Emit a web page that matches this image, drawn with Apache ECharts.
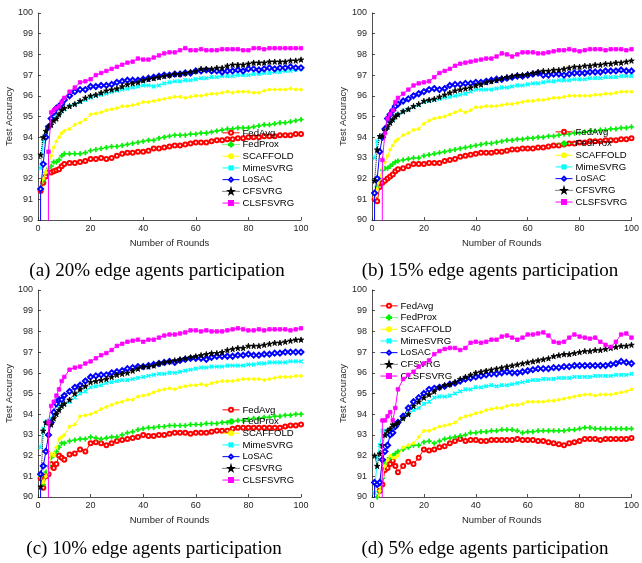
<!DOCTYPE html>
<html>
<head>
<meta charset="utf-8">
<script src="https://cdn.jsdelivr.net/npm/echarts@6/dist/echarts.min.js"></script>
<style>
  html, body { margin: 0; padding: 0; background: #fff; }
  #chart { width: 642px; height: 563px; }
</style>
</head>
<body>
<div id="chart"></div>
<script>
// rounds (x values); index 0 is round 0
const rounds = [0, 1, 2, 3, 4, 5, 6, 7, 8, 9, 10,
  12, 14, 16, 18, 20, 22, 24, 26, 28, 30, 32, 34, 36, 38, 40,
  42, 44, 46, 48, 50, 52, 54, 56, 58, 60, 62, 64, 66, 68, 70,
  72, 74, 76, 78, 80, 82, 84, 86, 88, 90, 92, 94, 96, 98, 100]

const methods = ['FedAvg', 'FedProx', 'SCAFFOLD', 'MimeSVRG', 'LoSAC', 'CFSVRG', 'CLSFSVRG']
const captions = ['(a) 20% edge agents participation', '(b) 15% edge agents participation',
  '(c) 10% edge agents participation', '(d) 5% edge agents participation']

// (a) 20%
const avgA = [null, 91.4, 91.8, 92.1, 92.3, 92.3, 92.35, 92.4, 92.45, 92.6, 92.7, 92.75, 92.75, 92.8, 92.85, 92.95, 92.95, 93.0, 92.95, 93.0, 93.1, 93.2, 93.25, 93.25, 93.3, 93.3, 93.35, 93.45, 93.45, 93.5, 93.55, 93.6, 93.6, 93.65, 93.7, 93.75, 93.75, 93.75, 93.8, 93.85, 93.85, 93.9, 93.9, 93.95, 93.95, 94.0, 94.0, 94.0, 94.05, 94.05, 94.05, 94.1, 94.1, 94.1, 94.15, 94.15]
const proxA = [null, 91.5, 91.9, 92.3, 92.5, 92.6, 92.8, 92.8, 92.9, 93.1, 93.2, 93.2, 93.2, 93.2, 93.25, 93.35, 93.4, 93.45, 93.5, 93.55, 93.55, 93.6, 93.65, 93.7, 93.75, 93.8, 93.85, 93.85, 93.95, 94.0, 94.05, 94.1, 94.1, 94.1, 94.15, 94.15, 94.2, 94.2, 94.25, 94.3, 94.35, 94.4, 94.4, 94.45, 94.45, 94.45, 94.5, 94.55, 94.6, 94.6, 94.65, 94.7, 94.7, 94.75, 94.8, 94.85]
const scafA = [null, 91.6, 92.0, 92.3, 92.7, 93.1, 93.5, 93.8, 94.0, 94.2, 94.3, 94.4, 94.6, 94.7, 94.85, 95.1, 95.15, 95.2, 95.3, 95.35, 95.4, 95.5, 95.5, 95.55, 95.6, 95.7, 95.7, 95.75, 95.8, 95.85, 95.9, 95.95, 95.95, 95.9, 95.95, 96.0, 96.0, 96.05, 96.1, 96.1, 96.15, 96.2, 96.15, 96.2, 96.2, 96.2, 96.15, 96.15, 96.25, 96.3, 96.3, 96.3, 96.3, 96.35, 96.3, 96.3]
const mimeA = [null, 92.5, 93.8, 94.2, 94.5, 94.7, 94.9, 95.0, 95.1, 95.25, 95.35, 95.5, 95.6, 95.7, 95.8, 95.9, 96.0, 96.05, 96.1, 96.2, 96.25, 96.3, 96.35, 96.4, 96.45, 96.5, 96.5, 96.45, 96.5, 96.6, 96.65, 96.7, 96.7, 96.75, 96.75, 96.8, 96.85, 96.85, 96.9, 96.9, 96.95, 96.95, 96.95, 97.0, 97.0, 97.0, 97.05, 97.05, 97.1, 97.1, 97.15, 97.15, 97.2, 97.2, 97.25, 97.3]
const losacA = [10, 91.5, 92.7, 94.0, 94.5, 94.9, 95.2, 95.4, 95.5, 95.6, 95.8, 96.0, 96.2, 96.3, 96.3, 96.45, 96.45, 96.5, 96.5, 96.55, 96.65, 96.7, 96.75, 96.75, 96.75, 96.8, 96.85, 96.9, 96.95, 97.0, 97.0, 97.05, 97.05, 97.1, 97.1, 97.2, 97.2, 97.25, 97.2, 97.2, 97.15, 97.2, 97.2, 97.25, 97.2, 97.3, 97.3, 97.25, 97.3, 97.35, 97.3, 97.35, 97.35, 97.4, 97.35, 97.35]
const cfA = [null, 93.15, 94.0, 94.3, 94.5, 94.6, 94.8, 94.9, 95.1, 95.3, 95.4, 95.5, 95.6, 95.75, 95.9, 96.0, 96.05, 96.15, 96.25, 96.3, 96.35, 96.45, 96.55, 96.6, 96.65, 96.75, 96.8, 96.85, 96.9, 96.95, 97.0, 97.05, 97.05, 97.1, 97.15, 97.2, 97.3, 97.3, 97.3, 97.35, 97.35, 97.45, 97.5, 97.5, 97.5, 97.55, 97.6, 97.6, 97.6, 97.65, 97.65, 97.65, 97.65, 97.7, 97.7, 97.75]
const clsA = [null, 10, 10, 10, 93.3, 95.2, 95.3, 95.4, 95.5, 95.7, 95.9, 96.2, 96.4, 96.65, 96.7, 96.8, 97.0, 97.1, 97.2, 97.3, 97.4, 97.5, 97.6, 97.65, 97.8, 97.75, 97.75, 97.85, 97.95, 98.05, 98.1, 98.1, 98.2, 98.3, 98.2, 98.2, 98.25, 98.2, 98.2, 98.2, 98.25, 98.25, 98.25, 98.25, 98.2, 98.2, 98.3, 98.3, 98.25, 98.3, 98.3, 98.3, 98.3, 98.3, 98.3, 98.3]

// (b) 15%
const avgB = [null, 91.0, 90.9, 91.6, 91.8, 91.9, 92.0, 92.1, 92.2, 92.35, 92.45, 92.5, 92.6, 92.7, 92.7, 92.7, 92.75, 92.75, 92.75, 92.85, 92.9, 92.95, 93.05, 93.1, 93.15, 93.2, 93.25, 93.25, 93.25, 93.3, 93.3, 93.35, 93.4, 93.4, 93.45, 93.45, 93.45, 93.5, 93.5, 93.55, 93.6, 93.6, 93.65, 93.7, 93.7, 93.75, 93.75, 93.8, 93.8, 93.8, 93.85, 93.85, 93.85, 93.9, 93.9, 93.95]
const proxB = [null, 91.3, 91.6, 92.0, 92.4, 92.5, 92.5, 92.6, 92.7, 92.8, 92.85, 92.9, 92.95, 93.0, 93.0, 93.1, 93.15, 93.2, 93.25, 93.3, 93.35, 93.4, 93.45, 93.5, 93.55, 93.6, 93.65, 93.7, 93.7, 93.75, 93.8, 93.85, 93.85, 93.9, 93.9, 93.95, 93.95, 94.0, 94.0, 94.05, 94.05, 94.1, 94.15, 94.15, 94.2, 94.2, 94.25, 94.3, 94.3, 94.35, 94.35, 94.4, 94.4, 94.45, 94.45, 94.5]
const scafB = [null, 91.1, 91.5, 92.0, 92.5, 92.8, 93.1, 93.4, 93.6, 93.8, 93.9, 94.1, 94.2, 94.35, 94.4, 94.65, 94.8, 94.9, 94.95, 95.0, 95.1, 95.2, 95.3, 95.2, 95.3, 95.45, 95.45, 95.5, 95.5, 95.5, 95.55, 95.6, 95.6, 95.65, 95.7, 95.75, 95.75, 95.8, 95.8, 95.85, 95.9, 95.9, 95.95, 96.0, 96.0, 96.0, 96.0, 96.0, 96.05, 96.05, 96.1, 96.1, 96.15, 96.2, 96.2, 96.2]
const mimeB = [null, 93.0, 93.8, 94.0, 94.1, 94.3, 94.5, 94.7, 94.85, 95.0, 95.1, 95.25, 95.35, 95.45, 95.55, 95.7, 95.75, 95.8, 95.85, 95.9, 95.95, 96.0, 96.05, 96.1, 96.2, 96.3, 96.3, 96.3, 96.3, 96.35, 96.4, 96.4, 96.45, 96.5, 96.5, 96.55, 96.6, 96.6, 96.65, 96.7, 96.7, 96.75, 96.75, 96.75, 96.8, 96.8, 96.8, 96.85, 96.85, 96.85, 96.9, 96.9, 96.9, 96.95, 96.95, 96.95]
const losacB = [10, 91.3, 92.0, 93.3, 94.0, 94.4, 94.9, 95.1, 95.3, 95.5, 95.6, 95.75, 95.85, 96.0, 96.1, 96.2, 96.3, 96.35, 96.3, 96.35, 96.5, 96.55, 96.55, 96.6, 96.6, 96.65, 96.65, 96.7, 96.75, 96.8, 96.8, 96.85, 96.9, 96.95, 96.95, 97.0, 97.05, 97.1, 97.0, 97.0, 97.05, 97.05, 97.0, 97.05, 97.1, 97.1, 97.1, 97.15, 97.15, 97.15, 97.2, 97.2, 97.2, 97.25, 97.2, 97.2]
const cfB = [null, 91.9, 93.4, 94.05, 94.05, 94.3, 94.5, 94.7, 94.85, 95.0, 95.1, 95.25, 95.35, 95.5, 95.6, 95.75, 95.8, 95.85, 95.95, 96.05, 96.15, 96.25, 96.3, 96.35, 96.4, 96.5, 96.55, 96.65, 96.7, 96.75, 96.85, 96.9, 96.95, 97.0, 97.0, 97.05, 97.1, 97.15, 97.2, 97.2, 97.25, 97.25, 97.3, 97.35, 97.4, 97.4, 97.45, 97.45, 97.5, 97.5, 97.55, 97.55, 97.6, 97.6, 97.65, 97.7]
const clsB = [null, 10, 10, 10, 92.9, 94.2, 94.9, 95.1, 95.3, 95.7, 95.9, 96.1, 96.3, 96.5, 96.6, 96.65, 96.7, 96.9, 97.1, 97.2, 97.3, 97.45, 97.55, 97.6, 97.65, 97.7, 97.75, 97.8, 97.8, 97.9, 98.05, 98.0, 97.9, 98.0, 98.1, 98.1, 98.1, 98.05, 98.05, 98.1, 98.15, 98.2, 98.2, 98.25, 98.2, 98.15, 98.2, 98.25, 98.25, 98.25, 98.2, 98.25, 98.25, 98.25, 98.2, 98.25]

// (c) 10%
const avgC = [null, 90.9, 90.45, 91.0, 91.1, 91.6, 91.4, 91.6, 92.0, 91.9, 91.8, 92.05, 92.1, 92.3, 92.2, 92.6, 92.65, 92.6, 92.5, 92.6, 92.7, 92.75, 92.8, 92.85, 92.9, 93.0, 92.95, 92.95, 93.0, 93.0, 93.05, 93.1, 93.1, 93.1, 93.05, 93.1, 93.1, 93.1, 93.15, 93.2, 93.2, 93.2, 93.3, 93.35, 93.35, 93.35, 93.35, 93.35, 93.35, 93.35, 93.35, 93.35, 93.4, 93.45, 93.45, 93.5]
const proxC = [null, 91.0, 90.6, 91.2, 91.5, 91.9, 92.0, 92.2, 92.4, 92.6, 92.6, 92.7, 92.75, 92.8, 92.8, 92.9, 92.85, 92.8, 92.85, 92.9, 92.9, 93.0, 93.1, 93.15, 93.25, 93.3, 93.35, 93.35, 93.4, 93.4, 93.45, 93.45, 93.45, 93.45, 93.5, 93.5, 93.5, 93.55, 93.55, 93.55, 93.6, 93.6, 93.65, 93.7, 93.7, 93.75, 93.8, 93.8, 93.85, 93.85, 93.9, 93.9, 93.95, 93.95, 94.0, 94.0]
const scafC = [null, 91.0, 90.7, 91.0, 91.3, 92.1, 92.0, 92.4, 92.8, 92.9, 93.0, 93.4, 93.5, 93.9, 93.95, 94.0, 94.1, 94.25, 94.35, 94.45, 94.55, 94.6, 94.7, 94.7, 94.85, 94.9, 94.95, 95.05, 95.15, 95.2, 95.25, 95.2, 95.3, 95.35, 95.4, 95.4, 95.45, 95.4, 95.5, 95.55, 95.6, 95.6, 95.6, 95.65, 95.7, 95.7, 95.7, 95.7, 95.65, 95.7, 95.75, 95.8, 95.8, 95.8, 95.85, 95.85]
const mimeC = [null, 92.4, 93.3, 93.6, 93.7, 93.8, 94.0, 94.1, 94.3, 94.4, 94.5, 94.6, 94.8, 95.0, 95.1, 95.3, 95.35, 95.4, 95.5, 95.55, 95.6, 95.65, 95.65, 95.7, 95.75, 95.8, 95.85, 95.9, 95.95, 95.95, 96.0, 96.0, 96.05, 96.1, 96.15, 96.2, 96.25, 96.25, 96.3, 96.3, 96.3, 96.35, 96.35, 96.35, 96.35, 96.4, 96.4, 96.45, 96.45, 96.5, 96.5, 96.5, 96.5, 96.55, 96.55, 96.55]
const losacC = [10, 91.1, 91.5, 92.2, 93.0, 93.6, 94.1, 94.5, 94.7, 94.7, 94.9, 95.1, 95.3, 95.4, 95.6, 95.8, 95.85, 95.9, 95.9, 96.0, 96.05, 96.1, 96.2, 96.25, 96.3, 96.3, 96.35, 96.4, 96.45, 96.5, 96.55, 96.5, 96.6, 96.65, 96.7, 96.7, 96.7, 96.65, 96.75, 96.8, 96.8, 96.8, 96.8, 96.85, 96.85, 96.9, 96.85, 96.85, 96.9, 96.9, 96.95, 96.95, 97.0, 97.0, 97.0, 97.0]
const cfC = [null, 90.5, 93.2, 93.6, 93.6, 93.5, 93.8, 94.0, 94.2, 94.4, 94.5, 94.7, 95.0, 95.2, 95.35, 95.55, 95.6, 95.65, 95.7, 95.8, 95.9, 95.95, 96.0, 96.1, 96.2, 96.3, 96.3, 96.35, 96.45, 96.5, 96.55, 96.6, 96.65, 96.7, 96.75, 96.8, 96.85, 96.9, 96.95, 96.95, 97.0, 97.1, 97.15, 97.2, 97.2, 97.3, 97.3, 97.3, 97.35, 97.4, 97.45, 97.45, 97.5, 97.55, 97.6, 97.6]
const clsC = [null, 10, 10, 10, 93.6, 94.4, 94.6, 94.9, 95.2, 95.6, 95.8, 96.15, 96.25, 96.3, 96.45, 96.55, 96.7, 96.85, 96.95, 97.1, 97.3, 97.4, 97.5, 97.55, 97.6, 97.5, 97.6, 97.6, 97.7, 97.8, 97.85, 97.85, 97.9, 97.95, 98.05, 98.05, 98.0, 98.05, 98.0, 98.0, 98.0, 98.05, 98.1, 98.15, 98.1, 98.05, 98.05, 98.1, 98.05, 98.1, 98.1, 98.1, 98.1, 98.05, 98.1, 98.15]

// (d) 5%
const avgD = [null, 89.5, 89.8, 90.3, 90.6, 91.3, 91.4, 91.6, 91.75, 91.5, 91.2, 91.5, 91.7, 91.6, 91.9, 92.3, 92.25, 92.3, 92.4, 92.45, 92.6, 92.7, 92.8, 92.7, 92.75, 92.75, 92.7, 92.7, 92.75, 92.75, 92.75, 92.75, 92.75, 92.8, 92.75, 92.75, 92.75, 92.7, 92.7, 92.65, 92.6, 92.55, 92.5, 92.6, 92.65, 92.7, 92.8, 92.8, 92.8, 92.75, 92.8, 92.8, 92.8, 92.8, 92.8, 92.85]
const proxD = [null, 89.8, 90.0, 90.3, 90.9, 91.6, 91.8, 91.9, 92.0, 92.1, 92.2, 92.3, 92.4, 92.5, 92.5, 92.65, 92.7, 92.6, 92.7, 92.8, 92.85, 92.9, 92.95, 93.0, 93.1, 93.1, 93.15, 93.15, 93.2, 93.2, 93.25, 93.25, 93.25, 93.2, 93.1, 93.15, 93.15, 93.2, 93.2, 93.2, 93.2, 93.2, 93.2, 93.25, 93.25, 93.3, 93.35, 93.35, 93.3, 93.3, 93.3, 93.3, 93.3, 93.3, 93.3, 93.3]
const scafD = [null, 89.5, 89.8, 90.3, 91.0, 91.5, 91.8, 92.0, 91.9, 91.9, 92.0, 92.4, 92.5, 92.6, 92.9, 93.2, 93.2, 93.3, 93.4, 93.45, 93.5, 93.6, 93.8, 93.9, 93.95, 94.05, 94.1, 94.2, 94.25, 94.3, 94.3, 94.4, 94.45, 94.45, 94.5, 94.6, 94.6, 94.6, 94.6, 94.65, 94.65, 94.7, 94.75, 94.8, 94.85, 94.9, 94.95, 94.95, 94.9, 94.95, 94.95, 94.95, 95.0, 95.05, 95.1, 95.2]
const mimeD = [null, 90.2, 91.9, 92.5, 93.2, 93.2, 93.0, 93.1, 93.2, 93.4, 93.6, 93.8, 94.0, 94.2, 94.3, 94.5, 94.6, 94.8, 94.85, 94.85, 94.9, 95.0, 95.1, 95.2, 95.2, 95.3, 95.3, 95.35, 95.4, 95.35, 95.4, 95.4, 95.45, 95.5, 95.55, 95.6, 95.65, 95.65, 95.7, 95.7, 95.7, 95.75, 95.75, 95.75, 95.8, 95.8, 95.8, 95.8, 95.85, 95.85, 95.85, 95.85, 95.9, 95.9, 95.9, 95.95]
const losacD = [10, 90.7, 90.6, 90.7, 91.8, 92.2, 92.5, 93.0, 93.1, 93.4, 93.6, 93.9, 94.3, 94.6, 94.8, 95.0, 95.2, 95.25, 95.3, 95.35, 95.45, 95.5, 95.6, 95.7, 95.75, 95.8, 95.85, 95.9, 95.95, 95.95, 96.0, 96.05, 96.0, 96.0, 96.05, 96.1, 96.15, 96.2, 96.2, 96.2, 96.25, 96.25, 96.3, 96.3, 96.35, 96.35, 96.35, 96.35, 96.35, 96.35, 96.35, 96.4, 96.45, 96.55, 96.5, 96.45]
const cfD = [null, 92.0, 91.5, 92.1, 92.5, 93.0, 93.2, 93.3, 93.5, 93.5, 93.6, 93.8, 94.0, 94.4, 94.6, 94.8, 94.95, 95.1, 95.3, 95.4, 95.45, 95.55, 95.7, 95.8, 95.9, 96.0, 96.05, 96.1, 96.15, 96.2, 96.25, 96.3, 96.35, 96.4, 96.45, 96.5, 96.55, 96.6, 96.65, 96.7, 96.8, 96.85, 96.9, 96.9, 96.95, 97.0, 97.05, 97.05, 97.1, 97.1, 97.15, 97.2, 97.25, 97.3, 97.3, 97.35]
const clsD = [null, 10, 10, 10, 93.7, 93.7, 93.9, 94.1, 93.7, 94.3, 95.2, 95.7, 95.9, 96.05, 96.3, 96.45, 96.6, 96.9, 97.05, 97.15, 97.2, 97.2, 97.1, 97.2, 97.45, 97.5, 97.45, 97.5, 97.6, 97.6, 97.75, 97.8, 97.7, 97.6, 97.7, 97.85, 97.85, 97.9, 97.95, 97.8, 97.5, 97.45, 97.5, 97.7, 97.85, 97.75, 97.7, 97.65, 97.7, 97.5, 97.35, 97.25, 97.5, 97.85, 97.9, 97.7]

const panels = [
  [avgA, proxA, scafA, mimeA, losacA, cfA, clsA],
  [avgB, proxB, scafB, mimeB, losacB, cfB, clsB],
  [avgC, proxC, scafC, mimeC, losacC, cfC, clsC],
  [avgD, proxD, scafD, mimeD, losacD, cfD, clsD]
]

// layout of the four axes boxes
const boxes = [
  { left: 38, top: 13, width: 263, height: 207 },
  { left: 372, top: 13, width: 262, height: 207 },
  { left: 38, top: 290, width: 263, height: 207 },
  { left: 372, top: 290, width: 262, height: 207 }
]
const legendPos = [
  { left: 222, top: 127 },
  { left: 555, top: 126 },
  { left: 222, top: 404 },
  { left: 380, top: 300 }
]
const captionPos = [[157, 271], [490, 271], [154, 549], [485, 549]]

const PLUS = 'path://M4,0H6V4H10V6H6V10H4V6H0V4H4Z'
const STAR = 'path://M50,0L61,35H98L68,57L79,91L50,70L21,91L32,57L2,35H39Z'
const look = [
  { color: '#ff0000', symbol: 'emptyCircle', size: 4, type: 'solid' },
  { color: '#00ee00', symbol: PLUS, size: 4.5, type: 'dotted' },
  { color: '#ffff00', symbol: 'circle', size: 3, type: 'solid' },
  { color: '#00ffff', symbol: PLUS, size: 4.5, rotate: 45, type: 'solid' },
  { color: '#0000ff', symbol: 'emptyDiamond', size: 5, type: 'solid' },
  { color: '#000000', symbol: STAR, size: 5.5, type: 'dotted' },
  { color: '#ff00ff', symbol: 'rect', size: 3.5, type: 'solid' }
]

const axisColor = '#262626'
const font = 'Liberation Sans'

const grid = boxes.map(b => Object.assign({ containLabel: false }, b))

const xAxis = boxes.map((b, i) => ({
  type: 'value', gridIndex: i, min: 0, max: 100, interval: 20,
  name: 'Number of Rounds', nameLocation: 'middle', nameGap: 18,
  nameTextStyle: { fontFamily: font, fontSize: 9.5, color: axisColor },
  axisLine: { lineStyle: { color: axisColor, width: 0.8 } },
  axisTick: { inside: true, length: 3, lineStyle: { color: axisColor, width: 0.8 } },
  axisLabel: { fontFamily: font, fontSize: 9, color: axisColor, margin: 4 },
  splitLine: { show: false }
}))

const yAxis = boxes.map((b, i) => ({
  type: 'value', gridIndex: i, min: 90, max: 100, interval: 1,
  name: 'Test Accuracy', nameLocation: 'middle', nameGap: 23,
  nameTextStyle: { fontFamily: font, fontSize: 9.5, color: axisColor },
  axisLine: { show: true, lineStyle: { color: axisColor, width: 0.8 } },
  axisTick: { show: true, inside: true, length: 3, lineStyle: { color: axisColor, width: 0.8 } },
  axisLabel: { fontFamily: font, fontSize: 9, color: axisColor, margin: 5 },
  splitLine: { show: false }
}))

const series = []
panels.forEach((lines, p) => {
  lines.forEach((vals, k) => {
    const s = look[k]
    series.push({
      name: methods[k],
      type: 'line',
      xAxisIndex: p,
      yAxisIndex: p,
      data: rounds.map((r, i) => [r, vals[i]]).filter(d => d[1] != null),
      symbol: s.symbol,
      symbolSize: s.size,
      symbolRotate: s.rotate || 0,
      showAllSymbol: true,
      clip: true,
      itemStyle: { color: s.color, borderColor: s.color, borderWidth: 0.8 },
      lineStyle: { color: s.color, width: 1, type: s.type },
      emphasis: { disabled: true },
      z: 2 + k
    })
  })
})

const legend = legendPos.map(pos => ({
  data: methods,
  orient: 'vertical',
  left: pos.left,
  top: pos.top,
  itemWidth: 17,
  itemHeight: 5,
  itemGap: 0,
  padding: 0,
  selectedMode: false,
  lineStyle: { width: 1 },
  textStyle: { fontFamily: font, fontSize: 9.6, color: '#000', lineHeight: 11.7, padding: [0, 0, 0, -2] }
}))

const graphic = captions.map((t, i) => ({
  type: 'text',
  x: captionPos[i][0],
  y: captionPos[i][1],
  style: {
    text: t,
    fill: '#000',
    font: '19px "Liberation Serif"',
    textAlign: 'center',
    textVerticalAlign: 'middle'
  }
}))

const chart = echarts.init(document.getElementById('chart'), null, { renderer: 'canvas' })
chart.setOption({
  animation: false,
  backgroundColor: '#fff',
  grid, xAxis, yAxis, series, legend, graphic
})
</script>
</body>
</html>
